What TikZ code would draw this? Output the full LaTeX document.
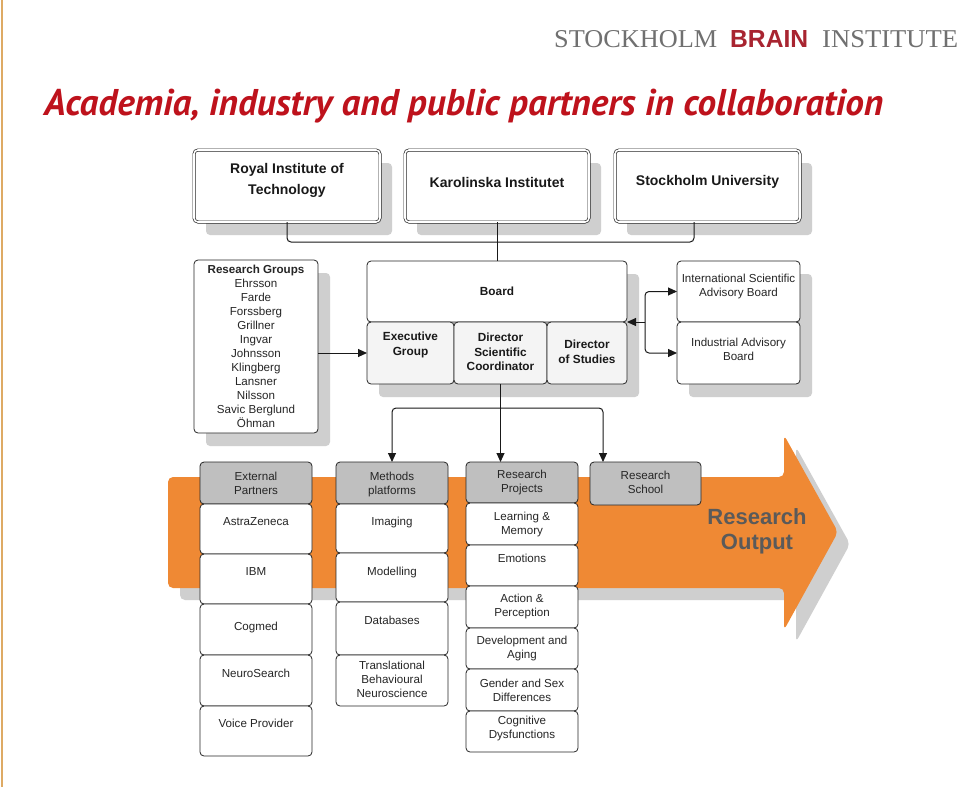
\documentclass[tikz,border=0pt]{standalone}
\usepackage{fontspec}
\usepackage{graphicx}
\setmainfont{Liberation Sans}
\newfontfamily\titlefont{PT Sans}
\newfontfamily\hdrserif{Liberation Serif}
\usetikzlibrary{arrows.meta}
\definecolor{orng}{RGB}{239,137,52}
\definecolor{shad}{RGB}{207,207,207}
\definecolor{titred}{RGB}{190,18,28}
\definecolor{brainred}{RGB}{168,36,48}
\definecolor{hdrgray}{RGB}{112,112,112}
\definecolor{hdfill}{RGB}{191,191,191}
\definecolor{subfill}{RGB}{244,244,244}
\definecolor{outgray}{RGB}{90,90,90}
\definecolor{edgetan}{RGB}{222,170,100}
\tikzset{
  basebox/.style={inner sep=0pt, outer sep=0pt, anchor=north west},
  topbox/.style={basebox, draw=black!85, line width=0.7pt, double=white, double distance=1.6pt, rounded corners=4pt, fill=white},
  pbox/.style={basebox, draw=black!85, line width=0.8pt, rounded corners=4pt, fill=white},
  sbox/.style={basebox, draw=black!85, line width=0.8pt, rounded corners=4pt, fill=subfill},
  hbox/.style={basebox, draw=black!85, line width=0.8pt, rounded corners=4pt, fill=hdfill},
  txt/.style={font=\fontsize{11.6}{14}\selectfont, align=center, inner sep=0pt, text=black!85},
  btxt/.style={font=\bfseries\fontsize{11.8}{14.5}\selectfont, align=center, inner sep=0pt, text=black!90},
  ttxt/.style={font=\bfseries\fontsize{14}{21}\selectfont, align=center, inner sep=0pt, text=black!90},
  shadowfill/.style={fill=shad, rounded corners=4pt},
  conn/.style={draw=black!90, line width=1pt},
  arr/.style={conn, -{Triangle[length=9pt,width=8pt]}},
}
\newcommand\rbox[6]{\node[#1, minimum width={#4pt-#2pt}, minimum height={#5pt-#3pt}] (#6) at (#2,#3) {};}
\newcommand\shbox[4]{\fill[shadowfill] (#1+12,#2+13) rectangle (#3+12,#4+13);}
\begin{document}
\begin{tikzpicture}[x=1pt,y=-1pt]
\useasboundingbox (0,0) rectangle (960,787);
\fill[white] (0,0) rectangle (960,787);
\draw[edgetan, line width=2pt] (1.5,0) -- (1.5,787);

% header
\node[anchor=base west, inner sep=0pt, text=hdrgray] (stk) at (554,47) {\resizebox{163pt}{17pt}{\hdrserif STOCKHOLM}};
\node[anchor=base west, inner sep=0pt, text=brainred] (brn) at (730,47) {\resizebox{78pt}{17pt}{\bfseries BRAIN}};
\node[anchor=base west, inner sep=0pt, text=hdrgray] (ins) at (822,47) {\resizebox{136pt}{17pt}{\hdrserif INSTITUTE}};
\node[anchor=base west, inner sep=0pt, text=titred] (title) at (44,115) {\resizebox{839pt}{!}{\titlefont\bfseries\itshape Academia, industry and public partners in collaboration}};

% shadows
\shbox{194}{150}{380}{222}
\shbox{405}{150}{589}{222}
\shbox{615}{150}{800}{222}
\shbox{194}{260}{318}{433}
\shbox{367}{261}{627}{384}
\shbox{677}{261}{800}{384}

% top boxes
\rbox{topbox}{194}{150}{380}{222}{kth}
\rbox{topbox}{405}{150}{589}{222}{ki}
\rbox{topbox}{615}{150}{800}{222}{su}
\node[ttxt] (kthT) at ([yshift=6pt]kth.center) {Royal Institute of\\Technology};
\node[ttxt] (kiT) at ([yshift=4pt]ki.center) {Karolinska Institutet};
\node[ttxt] (suT) at ([yshift=4pt]su.center) {Stockholm University};

% research groups
\rbox{pbox}{194}{260}{318}{433}{rg}
\node[txt] (rgT) at (rg.center) {{\bfseries Research Groups}\\Ehrsson\\Farde\\Forssberg\\Grillner\\Ingvar\\Johnsson\\Klingberg\\Lansner\\Nilsson\\Savic Berglund\\Öhman};

% board
\rbox{pbox}{367}{261}{627}{322}{board}
\rbox{sbox}{367}{322}{454}{384}{exec}
\rbox{sbox}{454}{322}{547}{384}{dsc}
\rbox{sbox}{547}{322}{627}{384}{dos}
\node[btxt] (boardT) at (board.center) {Board};
\node[btxt] (execT) at ([yshift=8pt]exec.center) {Executive\\Group};
\node[btxt] (dscT) at ([yshift=1pt]dsc.center) {Director\\Scientific\\Coordinator};
\node[btxt] (dosT) at ([yshift=1pt]dos.center) {Director\\of Studies};

% advisory
\rbox{pbox}{677}{261}{800}{322}{isab}
\rbox{pbox}{677}{322}{800}{384}{iab}
\node[txt] (isabT) at ([yshift=5pt]isab.center) {International Scientific\\Advisory Board};
\node[txt] (iabT) at ([yshift=3.5pt]iab.center) {Industrial Advisory\\Board};

% top connectors
\coordinate (jl) at (287,242);
\coordinate (jr) at (694,242);
\draw[conn, rounded corners=4pt] (kth.south) -- (jl) -- (jr) -- (jr |- su.south);
\draw[conn] (ki.south) -- (board.north);

% advisory connectors
\coordinate (av) at (645,322);
\draw[arr, rounded corners=4pt] (av) |- (isab.west);
\draw[arr, rounded corners=4pt] (av) |- (iab.west);
\draw[arr] (av) -- (board.south east);

% research groups arrow
\draw[arr] (rg.east |- exec.west) -- (exec.west);

% big orange arrow
\fill[shad, rounded corners=5pt] (180,489) -- (796,489) -- (796,447) -- (850,544) -- (796,642) -- (796,600) -- (180,600) -- cycle;
\fill[orng, rounded corners=5pt] (168,477) -- (784,477) -- (784,435) -- (838,532) -- (784,630) -- (784,588) -- (168,588) -- cycle;
\node[font=\bfseries\fontsize{22}{25}\selectfont, text=outgray, align=center, inner sep=0pt] (out) at (757,531.5) {Research\\Output};

% columns: external partners
\rbox{hbox}{200}{462}{312}{504}{ext}
\rbox{pbox}{200}{504}{312}{554}{az}
\rbox{pbox}{200}{554}{312}{604}{ibm}
\rbox{pbox}{200}{604}{312}{655}{cog}
\rbox{pbox}{200}{655}{312}{706}{neuro}
\rbox{pbox}{200}{706}{312}{756}{voice}
\node[txt] (extT) at (ext.center) {External\\Partners};
\node[txt] (azT) at ([yshift=-18pt]az.north) {AstraZeneca};
\node[txt] (ibmT) at ([yshift=-18pt]ibm.north) {IBM};
\node[txt] (cogT) at ([yshift=-23pt]cog.north) {Cogmed};
\node[txt] (neuroT) at ([yshift=-18pt]neuro.north) {NeuroSearch};
\node[txt] (voiceT) at ([yshift=-17pt]voice.north) {Voice Provider};

% methods platforms
\rbox{hbox}{336}{462}{448}{504}{meth}
\rbox{pbox}{336}{504}{448}{553}{img}
\rbox{pbox}{336}{553}{448}{602}{mod}
\rbox{pbox}{336}{602}{448}{655}{db}
\rbox{pbox}{336}{655}{448}{706}{trans}
\node[txt] (methT) at ([yshift=-1pt]meth.center) {Methods\\platforms};
\node[txt] (imgT) at ([yshift=-18pt]img.north) {Imaging};
\node[txt] (modT) at ([yshift=-19pt]mod.north) {Modelling};
\node[txt] (dbT) at ([yshift=-18pt]db.north) {Databases};
\node[txt] (transT) at ([yshift=1pt]trans.center) {Translational\\Behavioural\\Neuroscience};

% research projects
\rbox{hbox}{466}{462}{578}{503}{proj}
\rbox{pbox}{466}{503}{578}{545}{lm}
\rbox{pbox}{466}{545}{578}{586}{emo}
\rbox{pbox}{466}{586}{578}{628}{act}
\rbox{pbox}{466}{628}{578}{669}{dev}
\rbox{pbox}{466}{669}{578}{711}{gen}
\rbox{pbox}{466}{711}{578}{752}{cogd}
\node[txt] (projT) at (proj.center) {Research\\Projects};
\node[txt] (lmT) at (lm.center) {Learning \&\\Memory};
\node[txt] (emoT) at ([yshift=-13pt]emo.north) {Emotions};
\node[txt] (actT) at ([yshift=1pt]act.center) {Action \&\\Perception};
\node[txt] (devT) at (dev.center) {Development and\\Aging};
\node[txt] (genT) at (gen.center) {Gender and Sex\\Differences};
\node[txt] (cogdT) at ([yshift=3pt]cogd.center) {Cognitive\\Dysfunctions};

% research school
\rbox{hbox}{590}{462}{701}{505}{school}
\node[txt] (schoolT) at ([yshift=1pt]school.center) {Research\\School};

% director connectors
\coordinate (hub) at (500.5,408);
\draw[conn] (dsc.south) -- (hub);
\draw[arr, rounded corners=4pt] (hub) -| (meth.north);
\draw[arr] (hub) -- (hub |- proj.north);
\draw[arr, rounded corners=4pt] (hub) -| ([xshift=-42.5pt]school.north);
\end{tikzpicture}
\end{document}
